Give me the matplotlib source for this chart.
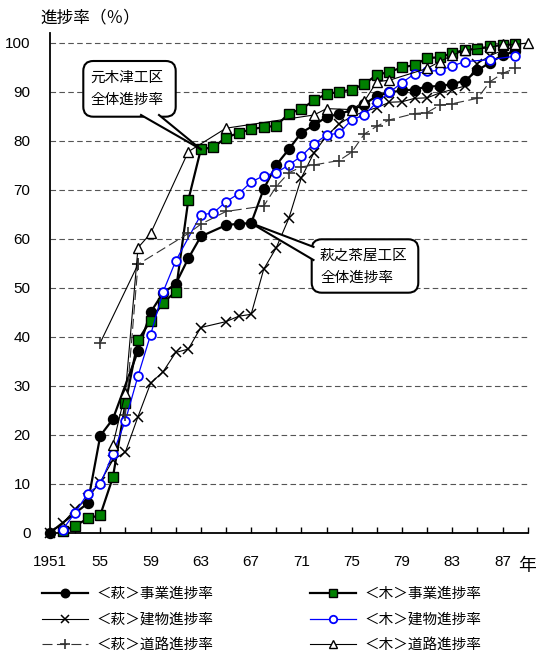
import matplotlib
matplotlib.use('Agg')
import matplotlib.pyplot as plt
from matplotlib.patches import FancyBboxPatch, Polygon
from matplotlib.lines import Line2D

plt.rcParams['font.family'] = ['Liberation Sans', 'Noto Sans CJK JP']

# <萩> 事業進捗率
hagi_jigyo_years = [1951, 1954, 1955, 1956, 1958, 1959, 1960, 1961, 1962, 1963, 1965, 1966, 1967,
                    1968, 1969, 1970, 1971, 1972, 1973, 1974, 1975, 1976, 1977, 1978, 1979, 1980,
                    1981, 1982, 1983, 1984, 1985, 1986, 1987, 1988]
hagi_jigyo = [0, 6, 19.8, 23.2, 37.1, 45, 49, 50.8, 56, 60.5, 62.8, 63.1, 63.2,
              70.2, 75.1, 78.3, 81.7, 83.2, 84.9, 85.5, 86.3, 87.5, 89.2, 89.9, 90.3, 90.5,
              91.1, 91.2, 91.6, 92.3, 94.4, 96, 97.5, 98.3]

# <木> 事業進捗率
ki_jigyo_years = list(range(1952, 1989))
ki_jigyo = [0.3, 1.4, 2.9, 3.6, 11.3, 26.4, 39.3, 43.3, 47, 49.2, 67.9, 78.3, 78.7, 80.7,
            81.6, 82.4, 82.8, 83.1, 85.6, 86.5, 88.3, 89.6, 90, 90.5, 91.6, 93.5, 94.1,
            95, 95.5, 96.9, 97.1, 97.9, 98.6, 98.8, 99.3, 99.6, 99.7]

# <萩> 建物進捗率
hagi_tatemono_years = [1951, 1952, 1953, 1954, 1955, 1956, 1957, 1958, 1959, 1960, 1961, 1962,
                       1963, 1965, 1966, 1967, 1968, 1969, 1970, 1971, 1972, 1973, 1974, 1975,
                       1976, 1977, 1978, 1979, 1980, 1981, 1982, 1983, 1984, 1985, 1986, 1987, 1988]
hagi_tatemono = [0, 1.9, 4.8, 7, 10.4, 14.8, 16.5, 23.7, 30.5, 32.9, 36.8, 37.5,
                 41.9, 43.1, 44.2, 44.6, 53.8, 58.2, 64.2, 72.5, 77.6, 81, 83.5, 85,
                 86, 86.8, 87.9, 88, 88.7, 88.8, 89.8, 90.5, 91.2, 95.8, 97.4, 98.5, 99.2]

# <木> 建物進捗率
ki_tatemono_years = [1952, 1953, 1954, 1955, 1956, 1957, 1958, 1959, 1960, 1961, 1963, 1964,
                     1965, 1966, 1967, 1968, 1969, 1970, 1971, 1972, 1973, 1974, 1975, 1976,
                     1977, 1978, 1979, 1980, 1981, 1982, 1983, 1984, 1986, 1988]
ki_tatemono = [0.6, 4.1, 8, 9.9, 16.1, 22.9, 32, 40.4, 49.2, 55.5, 64.9, 65.3,
               67.6, 69.2, 71.6, 72.9, 73.5, 75.1, 76.9, 79.4, 81.2, 81.6, 84.3, 85.3,
               87.9, 89.9, 91.9, 93.7, 94.2, 94.4, 95.3, 96.2, 96.6, 97.3]

# <萩> 道路進捗率
hagi_douro_years = [1957, 1958, 1962, 1963, 1965, 1968, 1969, 1970, 1971, 1972, 1974, 1975,
                    1976, 1977, 1978, 1980, 1981, 1982, 1983, 1985, 1986, 1987, 1988]
hagi_douro = [24, 54.8, 61.1, 63, 65.6, 66.7, 70.7, 73.5, 74.7, 75.1, 76, 77.7,
              81.4, 83, 84.3, 85.6, 85.8, 87.3, 87.6, 88.7, 92.1, 93.8, 94.8]
hagi_douro_extra_years = [1955, 1958]
hagi_douro_extra = [38.8, 54.8]

# <木> 道路進捗率
ki_douro_years = [1956, 1957, 1958, 1959, 1962, 1965, 1972, 1973, 1975, 1976, 1977, 1978,
                  1981, 1982, 1983, 1984, 1986, 1987, 1988, 1989]
ki_douro = [17.9, 28.6, 58.2, 61.1, 77.8, 82.6, 85.3, 86.6, 86.4, 88.1, 92.1, 92.4,
            94.8, 96.2, 97.5, 98.5, 99.1, 99.7, 99.7, 100]

labels = ['＜萩＞事業進捗率', '＜萩＞建物進捗率', '＜萩＞道路進捗率',
          '＜木＞事業進捗率', '＜木＞建物進捗率', '＜木＞道路進捗率']
x_ticks = list(range(1951, 1990, 2))
x_labels = ['1951', '55', '59', '63', '67', '71', '75', '79', '83', '87']

fig = plt.figure(figsize=(5.36, 6.58), dpi=100)
ax = fig.add_axes([50 / 536, (658 - 532.7) / 658, (527.7 - 50) / 536, (532.7 - 33.2) / 658])

st_hj = dict(color='black', lw=1.6, marker='o', ms=7.2, mfc='black', mec='black')
st_kj = dict(color='black', lw=1.6, marker='s', ms=6.8, mfc='#008000', mec='black', mew=1.0)
st_ht = dict(color='black', lw=0.8, marker='x', ms=7.5, mec='black', mew=1.1)
st_kt = dict(color='blue', lw=0.9, marker='o', ms=6.3, mfc='white', mec='blue', mew=1.3)
st_hd = dict(color='#333333', lw=0.8, ls=(0, (9, 4)), marker='+', ms=8.5, mec='#333333', mew=1.2)
st_kd = dict(color='black', lw=0.8, marker='^', ms=7.5, mfc='white', mec='black', mew=1.0)

l1, = ax.plot(hagi_jigyo_years, hagi_jigyo, clip_on=False, zorder=3, **st_hj)
l4, = ax.plot(ki_jigyo_years, ki_jigyo, clip_on=False, zorder=4, **st_kj)
l2, = ax.plot(hagi_tatemono_years, hagi_tatemono, clip_on=False, zorder=3, **st_ht)
l5, = ax.plot(ki_tatemono_years, ki_tatemono, clip_on=False, zorder=4, **st_kt)
l3, = ax.plot(hagi_douro_years, hagi_douro, clip_on=False, zorder=4, **st_hd)
ax.plot(hagi_douro_extra_years, hagi_douro_extra, color='black', lw=0.8, marker='+', ms=8.5,
        mec='#333333', mew=1.2, zorder=4)
l6, = ax.plot(ki_douro_years, ki_douro, clip_on=False, zorder=5, **st_kd)

ax.set_xlim(1951, 1989)
ax.set_ylim(0, 102)
ax.set_xticks(x_ticks)
ax.set_xticklabels([x_labels[i // 2] if i % 2 == 0 else '' for i in range(len(x_ticks))])
ax.set_yticks(range(0, 101, 10))
ax.tick_params(axis='x', direction='in', length=4, width=1, pad=16, labelsize=11)
ax.tick_params(axis='y', length=0, pad=14, labelsize=11)
for y in range(10, 101, 10):
    ax.axhline(y, color='#555555', lw=0.8, ls=(0, (5, 3)), zorder=1)
for s in ['top', 'right']:
    ax.spines[s].set_visible(False)
for s in ['left', 'bottom']:
    ax.spines[s].set_linewidth(1.3)

fig.text(40 / 536, 1 - 17 / 658, '進捗率（％）', fontsize=12, ha='left', va='center')
fig.text(518 / 536, 1 - 566 / 658, '年', fontsize=13, ha='left', va='center')

# callouts
inch = fig.dpi_scale_trans


def callout(box, base, tip_xy, lines, text_xy):
    x0, y0, w, h = box
    bp = FancyBboxPatch((x0, y0), w, h, boxstyle='round,pad=0,rounding_size=0.1',
                        transform=inch, fc='white', ec='black', lw=1.5, zorder=10)
    fig.add_artist(bp)
    tip = fig.dpi_scale_trans.inverted().transform(ax.transData.transform(tip_xy))
    wedge = Polygon([base[0], base[1], tip], closed=True, transform=inch,
                    fc='white', ec='none', zorder=11)
    fig.add_artist(wedge)
    for b in base:
        fig.add_artist(Line2D([b[0], tip[0]], [b[1], tip[1]], transform=inch,
                              color='black', lw=1.5, zorder=12))
    for i, t in enumerate(lines):
        fig.text(text_xy[0], text_xy[1] - i * 0.215, t, transform=inch, fontsize=10.5,
                 ha='left', va='center', zorder=13)


callout((0.833, 5.413, 0.924, 0.557), [(1.41, 5.43), (1.59, 5.43)],
        (1963, ki_jigyo[ki_jigyo_years.index(1963)]), ['元木津工区', '全体進捗率'], (0.90, 5.80))
callout((3.117, 3.653, 1.066, 0.534), [(3.135, 4.111), (3.135, 3.98)],
        (1967, hagi_jigyo[hagi_jigyo_years.index(1967)]), ['萩之茶屋工区', '全体進捗率'], (3.20, 4.02))

fig.legend([l1, l2, l3, l4, l5, l6], labels, ncol=2, loc='upper left',
           bbox_to_anchor=(42 / 536, 1 - 587 / 658), frameon=False, fontsize=10.5,
           handlelength=3.15, handletextpad=0.6, labelspacing=0.8, columnspacing=6.6,
           borderaxespad=0, borderpad=0, markerscale=0.85)

fig.savefig('out.png', dpi=100)
